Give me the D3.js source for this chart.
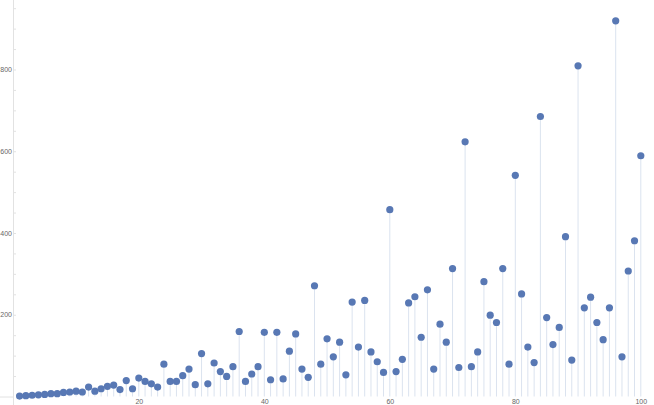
<!DOCTYPE html>
<html lang="en">
<head>
<meta charset="utf-8">
<title>Lollipop</title>
<script src="https://d3js.org/d3.v7.min.js"></script>
<style>
body { margin: 0; background: #fff; }
.tick text { font-family: "Liberation Sans", Arial, sans-serif; font-size: 7px; fill: #666; }
</style>
</head>
<body>
<div id="chart"></div>
<script>
// n = 1..100
var ns = d3.range(1, 101);
var values = [
  1, 2, 3, 4, 5, 7, 7, 10, 11, 13,
  11, 23, 13, 19, 25, 28, 17, 39, 19, 45,
  37, 31, 23, 79, 37, 37, 51, 67, 29, 105,
  31, 82, 61, 49, 73, 159, 37, 55, 73, 157,
  41, 157, 43, 111, 153, 67, 47, 271, 79, 141,
  97, 133, 53, 231, 121, 235, 109, 85, 59, 457,
  61, 91, 229, 244, 145, 261, 67, 177, 133, 313,
  71, 623, 73, 109, 281, 199, 181, 313, 79, 541,
  251, 121, 83, 685, 193, 127, 169, 391, 89, 809,
  217, 243, 181, 139, 217, 919, 97, 307, 381, 589
];
var xTicks = [20, 40, 60, 80, 100];
var yTicks = [200, 400, 600, 800];

var W = 654, H = 405;

var svg = d3.select("#chart").append("svg")
  .attr("width", W)
  .attr("height", H);

var x = d3.scaleLinear().domain([0, 100]).range([13.3, 640.8]);
var y = d3.scaleLinear().domain([0, 970]).range([396.5, 0]);

// y axis line
svg.append("line")
  .attr("x1", 13.5).attr("x2", 13.5)
  .attr("y1", 0).attr("y2", H)
  .attr("stroke", "#e2e2e2");

// zero tick to the left
svg.append("line")
  .attr("x1", 0).attr("x2", 13.5)
  .attr("y1", y(0) + 0.5).attr("y2", y(0) + 0.5)
  .attr("stroke", "#e2e2e2");

// minor ticks every 50
svg.append("g")
  .attr("transform", "translate(13.5,0)")
  .call(d3.axisRight(y).tickValues(d3.range(50, 951, 50)).tickSize(2.5).tickFormat(""))
  .call(function(g) { g.select(".domain").remove(); })
  .call(function(g) { g.selectAll(".tick line").attr("stroke", "#e2e2e2"); });

// y labels
svg.append("g")
  .attr("transform", "translate(12,0)")
  .call(d3.axisLeft(y).tickValues(yTicks).tickSize(0).tickPadding(0))
  .call(function(g) { g.select(".domain").remove(); });

// x labels
svg.append("g")
  .attr("transform", "translate(0," + 398 + ")")
  .call(d3.axisBottom(x).tickValues(xTicks).tickSize(0).tickPadding(1))
  .call(function(g) { g.select(".domain").remove(); });

var data = ns.map(function(n, i) { return {n: n, v: values[i]}; });

// stems
svg.selectAll(".stem")
  .data(data)
  .enter().append("line")
    .attr("class", "stem")
    .attr("x1", function(d) { return x(d.n); })
    .attr("x2", function(d) { return x(d.n); })
    .attr("y1", y(0))
    .attr("y2", function(d) { return y(d.v); })
    .attr("stroke", "#dbe3ef")
    .attr("stroke-width", 1);

// dots
svg.selectAll(".dot")
  .data(data)
  .enter().append("circle")
    .attr("class", "dot")
    .attr("cx", function(d) { return x(d.n); })
    .attr("cy", function(d) { return y(d.v); })
    .attr("r", 3.6)
    .attr("fill", "#5878b4");
</script>
</body>
</html>
